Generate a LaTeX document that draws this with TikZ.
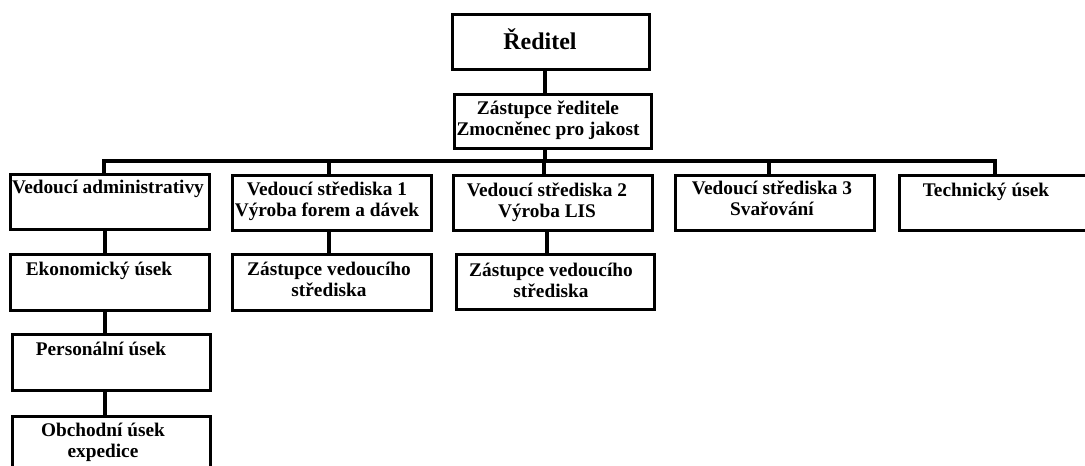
\documentclass[tikz,border=0pt]{standalone}
\usepackage{fontspec}
\setmainfont{Liberation Serif}
\newcommand{\twolines}[1]{\begin{tabular}[t]{@{}c@{}}#1\end{tabular}}
\begin{document}
\begin{tikzpicture}[x=1pt,y=-1pt,
  boxshape/.style={draw=black,line width=3.4pt,fill=white,inner sep=0pt,anchor=north west},
  lbl/.style={anchor=base,inner sep=0pt,font=\fontsize{19.3}{21.5}\selectfont\bfseries,text=black},
  conn/.style={draw=black,line width=3.2pt}]
\path[use as bounding box] (0,0) rectangle (1085,466);
\clip (0,0) rectangle (1085,466);

% boxes
\node[boxshape,minimum width=197pt,minimum height=55pt] (rd) at (451,13) {};
\node[boxshape,minimum width=197pt,minimum height=54pt] (zas) at (453,93) {};
\node[boxshape,minimum width=199pt,minimum height=55pt] (admin) at (9,173) {};
\node[boxshape,minimum width=199pt,minimum height=55pt] (v1) at (231,174) {};
\node[boxshape,minimum width=199pt,minimum height=55pt] (v2) at (452,174) {};
\node[boxshape,minimum width=199pt,minimum height=55pt] (v3) at (674,174) {};
\node[boxshape,minimum width=199pt,minimum height=55pt] (tech) at (898,174) {};
\node[boxshape,minimum width=199pt,minimum height=56pt] (ekon) at (9,253) {};
\node[boxshape,minimum width=198pt,minimum height=56pt] (pers) at (11,333) {};
\node[boxshape,minimum width=198pt,minimum height=60pt] (obch) at (11,415) {};
\node[boxshape,minimum width=199pt,minimum height=56pt] (zv1) at (231,253) {};
\node[boxshape,minimum width=198pt,minimum height=55pt] (zv2) at (455,253) {};

% texts
\node[lbl,font=\fontsize{24}{27}\selectfont\bfseries] (rd-t) at (540,49) {Ředitel};
\node[lbl] (zas-t) at (548,114) {\twolines{Zástupce ředitele\\Zmocněnec pro jakost}};
\node[lbl] (admin-t) at (108,193) {Vedoucí administrativy};
\node[lbl] (v1-t) at (327,195) {\twolines{Vedoucí střediska 1\\Výroba forem a dávek}};
\node[lbl] (v2-t) at (547,196) {\twolines{Vedoucí střediska 2\\Výroba LIS}};
\node[lbl] (v3-t) at (772,194) {\twolines{Vedoucí střediska 3\\Svařování}};
\node[lbl] (tech-t) at (986,196) {Technický úsek};
\node[lbl] (ekon-t) at (99,275) {Ekonomický úsek};
\node[lbl] (pers-t) at (101,355) {Personální úsek};
\node[lbl] (obch-t) at (103,436) {\twolines{Obchodní úsek\\expedice}};
\node[lbl] (zv1-t) at (329,275) {\twolines{Zástupce vedoucího\\střediska}};
\node[lbl] (zv2-t) at (551,276) {\twolines{Zástupce vedoucího\\střediska}};

% connectors
\coordinate (busl) at (104,161);
\coordinate (busr) at (995,161);
\draw[conn] (545,0 |- rd.south) -- (545,0 |- zas.north);
\draw[conn] (545,0 |- zas.south) -- (545,0 |- busl);
\draw[conn] (admin.north -| busl) -- (busl) -- (busr) -- (tech.north -| busr);
\draw[conn] (329,0 |- busl) -- (329,0 |- v1.north);
\draw[conn] (544,0 |- busl) -- (544,0 |- v2.north);
\draw[conn] (769,0 |- busl) -- (769,0 |- v3.north);
\draw[conn] (105,0 |- admin.south) -- (105,0 |- ekon.north);
\draw[conn] (105,0 |- ekon.south) -- (105,0 |- pers.north);
\draw[conn] (105,0 |- pers.south) -- (105,0 |- obch.north);
\draw[conn] (329,0 |- v1.south) -- (329,0 |- zv1.north);
\draw[conn] (547,0 |- v2.south) -- (547,0 |- zv2.north);
\end{tikzpicture}
\end{document}
